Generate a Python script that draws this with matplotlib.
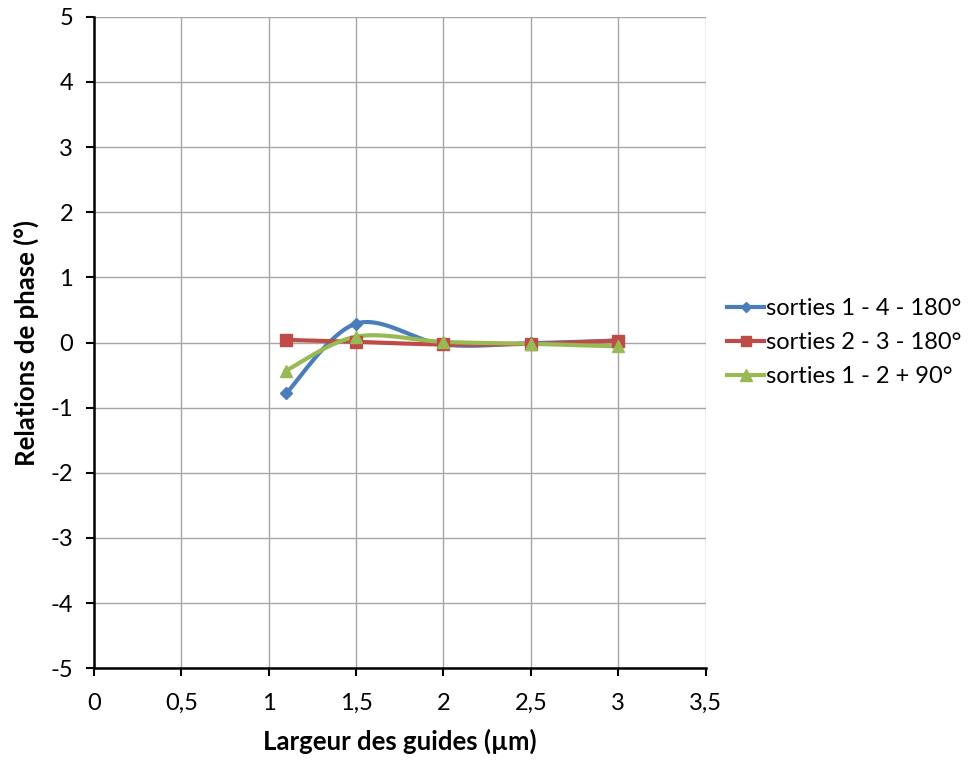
import matplotlib.pyplot as plt
import numpy as np

plt.rcParams['font.family'] = ['Lato', 'DejaVu Sans']
plt.rcParams['axes.unicode_minus'] = False

largeur = [1.1, 1.5, 2.0, 2.5, 3.0]
sorties_14 = [-0.78, 0.29, -0.03, -0.01, 0.03]
sorties_23 = [0.04, 0.01, -0.03, -0.02, 0.03]
sorties_12 = [-0.43, 0.09, 0.01, -0.02, -0.06]

series = [
    ("sorties 1 - 4 - 180°", sorties_14, "#4a7ebb", "D", 6.5),
    ("sorties 2 - 3 - 180°", sorties_23, "#be4b48", "s", 8.5),
    ("sorties 1 - 2 + 90°", sorties_12, "#98b954", "^", 9),
]


def smooth(x, y, n=30):
    # Catmull-Rom style curve through the points, like Excel's smoothed line
    x = np.asarray(x, float)
    y = np.asarray(y, float)
    px = np.concatenate([[x[0]], x, [x[-1]]])
    py = np.concatenate([[y[0]], y, [y[-1]]])
    xs, ys = [], []
    t = np.linspace(0, 1, n)
    for i in range(1, len(px) - 2):
        p0, p1, p2, p3 = [np.array([px[j], py[j]]) for j in (i - 1, i, i + 1, i + 2)]
        c1 = p1 + (p2 - p0) / 6
        c2 = p2 - (p3 - p1) / 6
        b = ((1 - t) ** 3)[:, None] * p1 + (3 * (1 - t) ** 2 * t)[:, None] * c1 \
            + (3 * (1 - t) * t ** 2)[:, None] * c2 + (t ** 3)[:, None] * p2
        xs.extend(b[:, 0])
        ys.extend(b[:, 1])
    return xs, ys


fig = plt.figure(figsize=(9.68, 7.62), dpi=100)
ax = fig.add_axes([0.097, 0.123, 0.632, 0.855])

for label, vals, color, marker, ms in series:
    sx, sy = smooth(largeur, vals)
    ax.plot(sx, sy, color=color, lw=3, zorder=3)
    ax.plot(largeur, vals, linestyle='none', marker=marker, markersize=ms,
            color=color, zorder=4)
    ax.plot([], [], color=color, lw=3, marker=marker, markersize=ms - 1, label=label)

ax.set_xlim(0, 3.5)
ax.set_ylim(-5, 5)
ax.set_xticks(np.arange(0, 3.51, 0.5))
ax.set_xticklabels(["0", "0,5", "1", "1,5", "2", "2,5", "3", "3,5"])
ax.set_yticks(np.arange(-5, 6, 1))
ax.grid(True, color="#a6a6a6", lw=1)
ax.set_axisbelow(True)
for s in ("top", "right"):
    ax.spines[s].set_visible(False)
for s in ("left", "bottom"):
    ax.spines[s].set_color("black")
    ax.spines[s].set_linewidth(1.8)
ax.tick_params(labelsize=17, length=6, width=1.5, direction='out')
ax.tick_params(axis='x', pad=12)
ax.tick_params(axis='y', pad=9)

ax.set_xlabel("Largeur des guides (µm)", fontsize=18.5, fontweight='bold', labelpad=10)
ax.set_ylabel("Relations de phase (°)", fontsize=18.5, fontweight='bold', labelpad=8)

ax.legend(loc='center left', bbox_to_anchor=(1.02, 0.5), frameon=False,
          fontsize=17, handlelength=1.55, handletextpad=0.1, labelspacing=0.55,
          borderaxespad=0.0)

fig.savefig("out.png", dpi=100)
